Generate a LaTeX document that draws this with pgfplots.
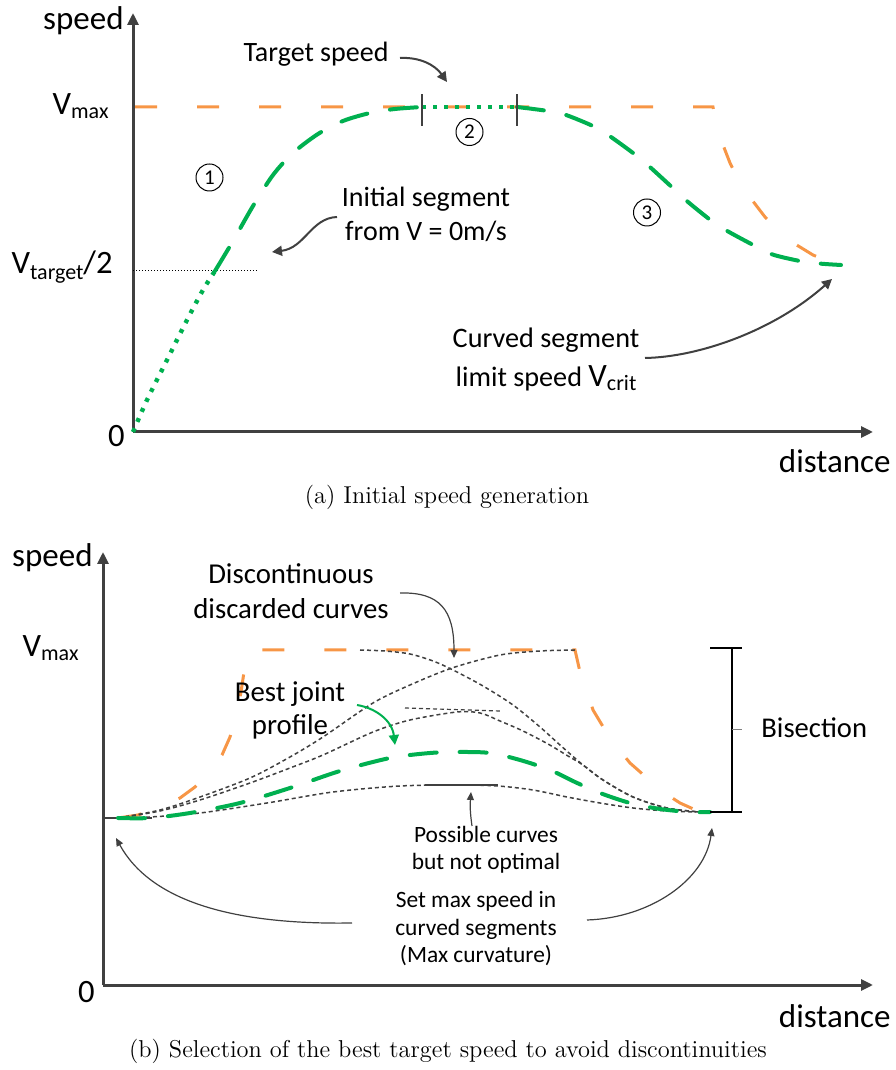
\documentclass[border=0pt]{standalone}
\usepackage{fontspec}
\usepackage{pgfplots}
\pgfplotsset{compat=1.18}
\usetikzlibrary{arrows.meta}
\newfontfamily\calib{Carlito}
\definecolor{vorange}{HTML}{F79646}
\definecolor{vgreen}{HTML}{00B050}
\definecolor{agray}{HTML}{404040}
\newcommand\fs[1]{\fontsize{#1}{#1}\selectfont\calib}
\newcommand\sub[2]{\raisebox{#1}{\fontsize{11}{11}\selectfont\calib #2}}
\pgfplotsset{
  speedaxis/.style={anchor=south west, x=0.5pt, y=0.5pt, xmin=0, ymin=0,
    axis lines=left, xtick=\empty, ytick=\empty, clip=false,
    axis line style={draw=agray, line width=1.5pt, -{Triangle[length=6pt,width=5.5pt]}}},
  orangeline/.style={vorange, line width=1.5pt, dash pattern=on 11pt off 20pt, dash phase=30pt, no markers},
  greendash/.style={vgreen, line width=2pt, dash pattern=on 13.5pt off 11.5pt, line cap=round, no markers, smooth},
  greendot/.style={vgreen, line width=2.2pt, dash pattern=on 2pt off 3.5pt, no markers},
  blackdot/.style={agray, line width=0.75pt, dash pattern=on 2pt off 1.5pt, no markers, smooth},
}
\begin{document}
\begin{tikzpicture}
\useasboundingbox (0,0) rectangle (447.5pt,535pt);
% ---------------- (a) ----------------
\begin{axis}[speedaxis, at={(66.5pt,319pt)}, xmax=740, ymax=419]
\addplot[orangeline] coordinates {(0,325) (580,325) (584,305) (590,287) (597,269) (607,249) (619,232) (632,215) (647,200) (662,188) (680,177) (699,169) (707,167)};
\addplot[black, line width=0.5pt, dash pattern=on 0.6pt off 0.9pt] coordinates {(0,161) (125,161)};
\addplot[greendot, smooth] coordinates {(0,0) (14,32) (34,72) (54,112) (70,142) (82,161)};
\addplot[greendash] coordinates {(82,161) (100,191) (120,226) (140,257) (160,279) (185,298) (210,311) (237,319) (262,323) (289,325)};
\addplot[greendot] coordinates {(289,325) (384,325)};
\addplot[greendash] coordinates {(384,325) (415,321) (433,317) (462,305) (478,295) (504,276) (518,264) (542,242) (555,230) (580,210) (596,200) (624,185) (641,177) (672,170) (692,168) (708,167)};
\draw[agray, line width=0.8pt] (axis cs:289,306) -- (axis cs:289,338);
\draw[agray, line width=0.8pt] (axis cs:384,306) -- (axis cs:384,338);
\end{axis}
% ---------------- (b) ----------------
\begin{axis}[speedaxis, at={(51.5pt,42.5pt)}, xmax=770, ymax=433]
\addplot[orangeline] coordinates {(15,167) (35,170) (55,177) (77,187) (92,198) (107,213) (119,230) (127,248) (134,272) (138,293) (141,313) (144,335) (472,335) (477,313) (484,293) (490,275) (502,255) (514,238) (527,222) (544,207) (560,193) (577,182) (597,173) (607,172)};
\addplot[agray, line width=0.75pt] coordinates {(0,167) (49,167)};
% discarded / possible curves
\addplot[blackdot] coordinates {(257,335) (282,334) (307,331) (330,324) (350,315) (380,299) (410,280) (437,258) (457,240) (480,220) (500,205) (530,188) (564,177) (597,173) (607,173)};
\addplot[blackdot] coordinates {(15,167) (57,175) (97,188) (147,207) (187,228) (220,248) (270,282) (307,300) (349,317) (397,330) (437,334) (472,335)};
\addplot[blackdot] coordinates {(15,167) (57,174) (97,185) (147,202) (187,217) (220,230) (270,253) (307,265) (354,273) (377,272) (397,264) (420,254) (445,241) (465,229) (480,220) (500,205) (530,188) (564,177) (597,173) (607,173)};
\addplot[blackdot] coordinates {(15,167) (47,168) (97,172) (164,182) (230,193) (297,199) (357,200) (395,199) (430,195) (464,188) (497,182) (530,177) (564,174) (597,173) (607,173)};
\addplot[agray, line width=0.6pt, dash pattern=on 2pt off 1.5pt] coordinates {(302,277) (397,274)};
\addplot[agray, line width=1pt] coordinates {(322,200) (395,200)};
\addplot[greendash] coordinates {(15,167) (47,167) (87,172) (137,182) (187,197) (237,214) (287,227) (327,232) (357,233) (387,232) (417,225) (447,215) (472,203) (497,192) (527,182) (557,176) (587,173) (607,173)};
% bisection bracket
\draw[black, line width=1pt] (axis cs:629,173) -- (axis cs:629,337);
\draw[black, line width=1pt] (axis cs:607,337) -- (axis cs:639,337);
\draw[black, line width=1pt] (axis cs:607,173) -- (axis cs:639,173);
\draw[gray, line width=0.5pt] (axis cs:629,255) -- (axis cs:639,255);
\end{axis}
% ---------------- annotations (pixel coordinates) ----------------
\begin{scope}[x=0.5pt,y=-0.5pt,shift={(0pt,535pt)}]
% (a)
\node[anchor=base east, inner sep=0] at (124,30) {\fs{16.5}speed};
\node[anchor=base east, inner sep=0] at (109,115) {\fs{16.3}V\sub{-2pt}{max}};
\node[anchor=base east, inner sep=0] at (113,274) {\fs{16.3}V\sub{-3pt}{target}/2};
\node[anchor=base east, inner sep=0] at (125,447) {\fs{16.3}0};
\node[anchor=base east, inner sep=0] at (891,473) {\fs{16.5}distance};
\node[anchor=base, inner sep=0] at (316,62) {\fs{14}Target speed};
\node[anchor=base, inner sep=0] at (426,207) {\fs{14}Initial segment};
\node[anchor=base, inner sep=0] at (426,241) {\fs{14}from V = 0m/s};
\node[anchor=base, inner sep=0] at (546,348) {\fs{14.1}Curved segment};
\node[anchor=base, inner sep=0] at (546,387) {\fs{14.1}limit speed {\fs{16.3}V}\sub{-2pt}{crit}};
\node[draw, circle, line width=0.5pt, minimum size=13.5pt, inner sep=0] at (209.5,177.5) {\fs{10.5}1};
\node[draw, circle, line width=0.5pt, minimum size=13.5pt, inner sep=0] at (469.5,132) {\fs{10.5}2};
\node[draw, circle, line width=0.5pt, minimum size=13.5pt, inner sep=0] at (647,212.5) {\fs{10.5}3};
\draw[agray, line width=1pt, -{Triangle[length=5pt,width=5pt]}] (400,58) .. controls (420,57) and (435,65) .. (447,82);
\draw[agray, line width=1pt, -{Triangle[length=5pt,width=5pt]}] (337,217) .. controls (311,218) and (305,248) .. (272,252);
\draw[agray, line width=1pt, -{Triangle[length=5pt,width=5pt]}] (645,358) .. controls (700,357) and (775,330) .. (832,279);
\node[anchor=base, inner sep=0] at (447,504) {\fontsize{12.2}{14}\selectfont (a) Initial speed generation};
% (b)
\node[anchor=base east, inner sep=0] at (93,567) {\fs{16.5}speed};
\node[anchor=base east, inner sep=0] at (79,657) {\fs{16.3}V\sub{-2pt}{max}};
\node[anchor=base east, inner sep=0] at (95,1003) {\fs{16.3}0};
\node[anchor=base east, inner sep=0] at (891,1028) {\fs{16.5}distance};
\node[anchor=base, inner sep=0] at (291,584) {\fs{14.4}Discontinuous};
\node[anchor=base, inner sep=0] at (291,619) {\fs{14.4}discarded curves};
\node[anchor=base, inner sep=0] at (290,702) {\fs{14.4}Best joint};
\node[anchor=base, inner sep=0] at (290,735) {\fs{14.4}profile};
\node[anchor=base west, inner sep=0] at (761,738) {\fs{14.3}Bisection};
\node[anchor=base, inner sep=0] at (486,843) {\fs{11.7}Possible curves};
\node[anchor=base, inner sep=0] at (486,870) {\fs{11.7}but not optimal};
\node[anchor=base, inner sep=0] at (476,908) {\fs{11.7}Set max speed in};
\node[anchor=base, inner sep=0] at (476,936) {\fs{11.7}curved segments};
\node[anchor=base, inner sep=0] at (476,963) {\fs{11.7}(Max curvature)};
\draw[agray, line width=0.6pt, -{Triangle[length=4pt,width=3.5pt]}] (400,593) .. controls (440,592) and (454,610) .. (454,658);
\draw[vgreen, line width=1pt, -{Triangle[length=5pt,width=5pt]}] (357,705) .. controls (375,708) and (392,720) .. (395,745);
\draw[agray, line width=0.6pt, -{Triangle[length=4pt,width=3.5pt]}] (472,826) .. controls (470,812) and (470,805) .. (471,792);
\draw[agray, line width=0.6pt, -{Triangle[length=4pt,width=3.5pt]}] (352,923) .. controls (230,925) and (150,900) .. (116,838);
\draw[agray, line width=0.6pt, -{Triangle[length=4pt,width=3.5pt]}] (587,920) .. controls (650,918) and (705,880) .. (712,828);
\node[anchor=base, inner sep=0] at (448,1058) {\fontsize{12.2}{14}\selectfont (b) Selection of the best target speed to avoid discontinuities};
\end{scope}
\end{tikzpicture}
\end{document}
